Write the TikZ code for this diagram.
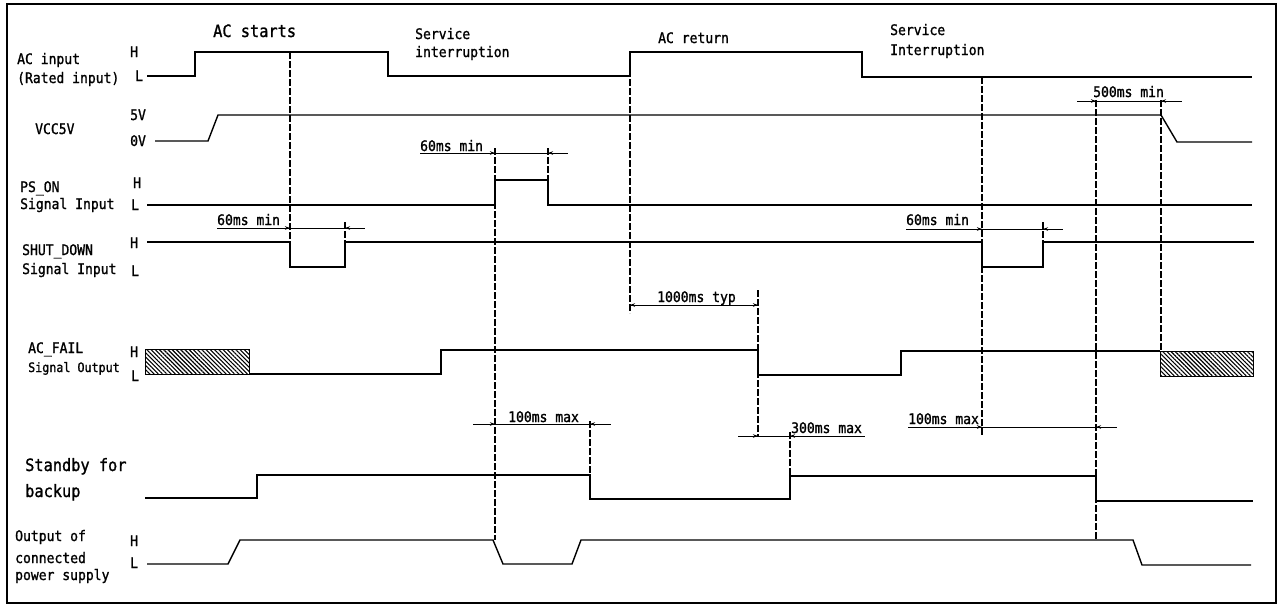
\documentclass[tikz,border=0pt]{standalone}
\usepackage{fontspec}
\newfontfamily\gfont[FakeStretch=0.9,FakeBold=1.2]{DejaVu Sans Mono}
\usetikzlibrary{arrows.meta,patterns.meta}
\newcommand{\us}{{\char95}}
\begin{document}
\begin{tikzpicture}[x=1pt,y=-1pt,
  sig/.style={line width=1.4pt, line join=miter},
  guide/.style={line width=1.2pt, dash pattern=on 7pt off 2pt},
  dim/.style={line width=0.9pt},
  arr/.style={-{Stealth[length=5pt,width=3.5pt]}, line width=0.9pt},
  lbl/.style={anchor=base west, inner sep=0pt, font=\gfont\fontsize{14.5}{16}\selectfont},
  big/.style={anchor=base west, inner sep=0pt, font=\gfont\fontsize{17}{19}\selectfont},
  hatch/.style={pattern={Lines[angle=-45,distance=3pt,line width=1.1pt]}, draw, line width=1pt}]
\useasboundingbox[fill=white] (0,0) rectangle (1278,606);
% frame
\draw[line width=1.5pt] (7,4) rectangle (1276,603);

% column headings
\node[big] (hAC) at (213,37) {AC starts};
\node[lbl] (hS1a) at (415,39) {Service};
\node[lbl] (hS1b) at (415,57) {interruption};
\node[lbl] (hACr) at (658,43) {AC return};
\node[lbl] (hS2a) at (890,35) {Service};
\node[lbl] (hS2b) at (890,55) {Interruption};

% row labels
\node[lbl] (lAC1) at (17,64) {AC input};
\node[lbl] (lAC2) at (17,83) {(Rated input)};
\node[lbl] (lACH) at (130,57) {H};
\node[lbl] (lACL) at (135,81) {L};

\node[lbl] (lVCC) at (35,134) {VCC5V};
\node[lbl] (lV5) at (130,120) {5V};
\node[lbl] (lV0) at (130,146) {0V};

\node[lbl] (lPS1) at (20,192) {PS\us ON};
\node[lbl] (lPS2) at (20,209) {Signal Input};
\node[lbl] (lPSH) at (133,188) {H};
\node[lbl] (lPSL) at (131,210) {L};

\node[lbl] (lSD1) at (22,255) {SHUT\us DOWN};
\node[lbl] (lSD2) at (22,274) {Signal Input};
\node[lbl] (lSDH) at (130,248) {H};
\node[lbl] (lSDL) at (131,276) {L};

\node[lbl] (lAF1) at (28,353) {AC\us FAIL};
\node[lbl,font=\gfont\fontsize{13}{15}\selectfont] (lAF2) at (28,372) {Signal Output};
\node[lbl] (lAFH) at (130,357) {H};
\node[lbl] (lAFL) at (131,381) {L};

\node[big] (lSB1) at (25,471) {Standby for};
\node[big] (lSB2) at (25,497) {backup};

\node[lbl] (lOP1) at (15,541) {Output of};
\node[lbl] (lOP2) at (15,563) {connected};
\node[lbl] (lOP3) at (15,580) {power supply};
\node[lbl] (lOPH) at (130,546) {H};
\node[lbl] (lOPL) at (130,568) {L};

% signals
\draw[sig] (147,76) -- (195,76) -- (195,52) -- (388,52) -- (388,76) -- (630,76) -- (630,52) -- (862,52) -- (862,77) -- (1252,77);
\draw[sig] (155,141) -- (208,141) -- (218,115) -- (1161,115) -- (1177,142) -- (1252,142);
\draw[sig] (147,205) -- (495,205) -- (495,180) -- (548,180) -- (548,205) -- (1252,205);
\draw[sig] (147,242) -- (290,242) -- (290,267) -- (345,267) -- (345,242) -- (982,242) -- (982,267) -- (1043,267) -- (1043,242) -- (1254,242);
\draw[hatch] (145,349) rectangle (249,374);
\draw[sig] (249,374) -- (441,374) -- (441,350) -- (758,350) -- (758,375) -- (901,375) -- (901,351) -- (1160,351);
\draw[hatch] (1160,351) rectangle (1253,376);
\draw[sig] (145,498) -- (257,498) -- (257,475) -- (590,475) -- (590,499) -- (790,499) -- (790,476) -- (1096,476) -- (1096,501) -- (1253,501);
\draw[sig] (147,564) -- (228,564) -- (240,540) -- (493,540) -- (503,564) -- (572,564) -- (581,540) -- (1133,540) -- (1142,565) -- (1251,565);

% guide lines
\draw[guide] (290,52) -- (290,267);
\draw[guide] (495,148) -- (495,540);
\draw[guide] (630,52) -- (630,313);
\draw[guide] (758,290) -- (758,437);
\draw[guide] (982,77) -- (982,435);
\draw[guide] (1096,100) -- (1096,540);
\draw[guide] (1161,100) -- (1161,352);
\draw[guide] (548,148) -- (548,180);
\draw[guide] (345,222) -- (345,242);
\draw[guide] (1043,222) -- (1043,242);
\draw[guide] (590,421) -- (590,475);
\draw[guide] (790,432) -- (790,476);

% dimensions
\node[lbl] (d1) at (420,151) {60ms min};
\draw[dim] (420,153) -- (568,153);
\draw[arr] (480,153) -- (495,153);
\draw[arr] (566,153) -- (548,153);

\node[lbl] (d2) at (217,225) {60ms min};
\draw[dim] (217,228) -- (365,228);
\draw[arr] (276,228) -- (290,228);
\draw[arr] (363,228) -- (345,228);

\node[lbl] (d3) at (906,225) {60ms min};
\draw[dim] (906,229) -- (1063,229);
\draw[arr] (968,229) -- (982,229);
\draw[arr] (1061,229) -- (1043,229);

\node[lbl] (d4) at (1093,97) {500ms min};
\draw[dim] (1077,101) -- (1182,101);
\draw[arr] (1079,101) -- (1096,101);
\draw[arr] (1180,101) -- (1161,101);

\node[lbl] (d5) at (657,302) {1000ms typ};
\draw[dim] (630,305) -- (758,305);
\draw[arr] (645,305) -- (630,305);
\draw[arr] (743,305) -- (758,305);

\node[lbl] (d6) at (508,422) {100ms max};
\draw[dim] (473,424) -- (611,424);
\draw[arr] (475,424) -- (495,424);
\draw[arr] (609,424) -- (590,424);

\node[lbl] (d7) at (791,433) {300ms max};
\draw[dim] (738,436) -- (865,436);
\draw[arr] (740,436) -- (758,436);
\draw[arr] (806,436) -- (790,436);

\node[lbl] (d8) at (908,424) {100ms max};
\draw[dim] (908,427) -- (1117,427);
\draw[arr] (966,427) -- (982,427);
\draw[arr] (1115,427) -- (1096,427);
\end{tikzpicture}
\end{document}
